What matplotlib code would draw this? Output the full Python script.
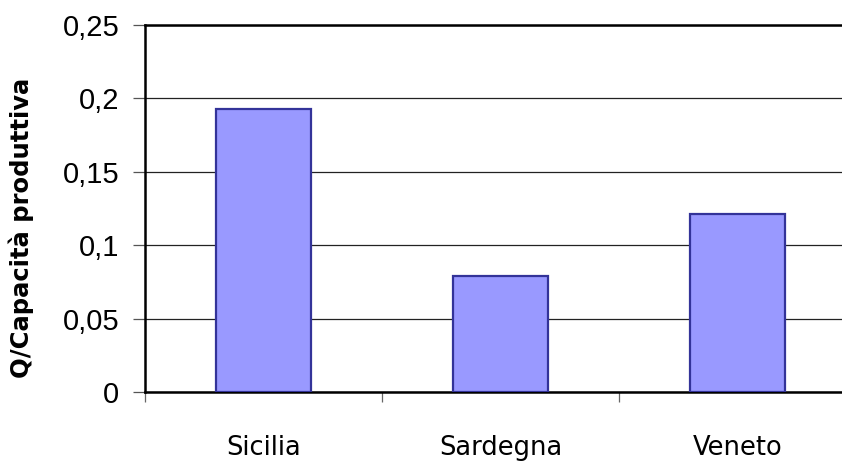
import matplotlib
matplotlib.use("Agg")
import matplotlib.pyplot as plt
from matplotlib.ticker import FixedLocator

regions = ["Sicilia", "Sardegna", "Veneto"]
ratio = [0.193, 0.079, 0.121]
y_ticks = [0, 0.05, 0.1, 0.15, 0.2, 0.25]
y_labels = ["0", "0,05", "0,1", "0,15", "0,2", "0,25"]

fig = plt.figure(figsize=(8.42, 4.62), dpi=100)
ax = fig.add_axes([145 / 842, 70 / 462, 711 / 842, 367 / 462])

x = range(len(regions))
ax.bar(x, ratio, width=0.4, color="#9999FF", edgecolor="#333399",
       linewidth=1.6, zorder=3)

ax.set_xlim(-0.5, len(regions) - 0.5)
ax.set_ylim(0, 0.25)

ax.set_yticks(y_ticks)
ax.set_yticklabels(y_labels, fontsize=21, family="Liberation Sans")
ax.yaxis.grid(True, color="#222222", linewidth=0.9, zorder=0)
ax.tick_params(axis="y", direction="out", length=8.5, width=0.9,
               color="#555555", pad=10)

ax.set_xticks(list(x))
ax.set_xticklabels(regions, fontsize=18.5)
ax.tick_params(axis="x", which="major", length=0, pad=31)
ax.xaxis.set_minor_locator(FixedLocator([i - 0.5 for i in x]))
ax.tick_params(axis="x", which="minor", direction="out", length=7.5,
               width=0.9, color="#666666")

for side in ("left", "bottom", "top"):
    ax.spines[side].set_color("black")
    ax.spines[side].set_linewidth(1.8)
ax.spines["right"].set_visible(False)

fig.text(21 / 842, 1 - 228 / 462, "Q/Capacità produttiva", rotation=90,
         fontsize=17.5, fontweight="bold", ha="center", va="center")

fig.savefig("out.png", dpi=100)
